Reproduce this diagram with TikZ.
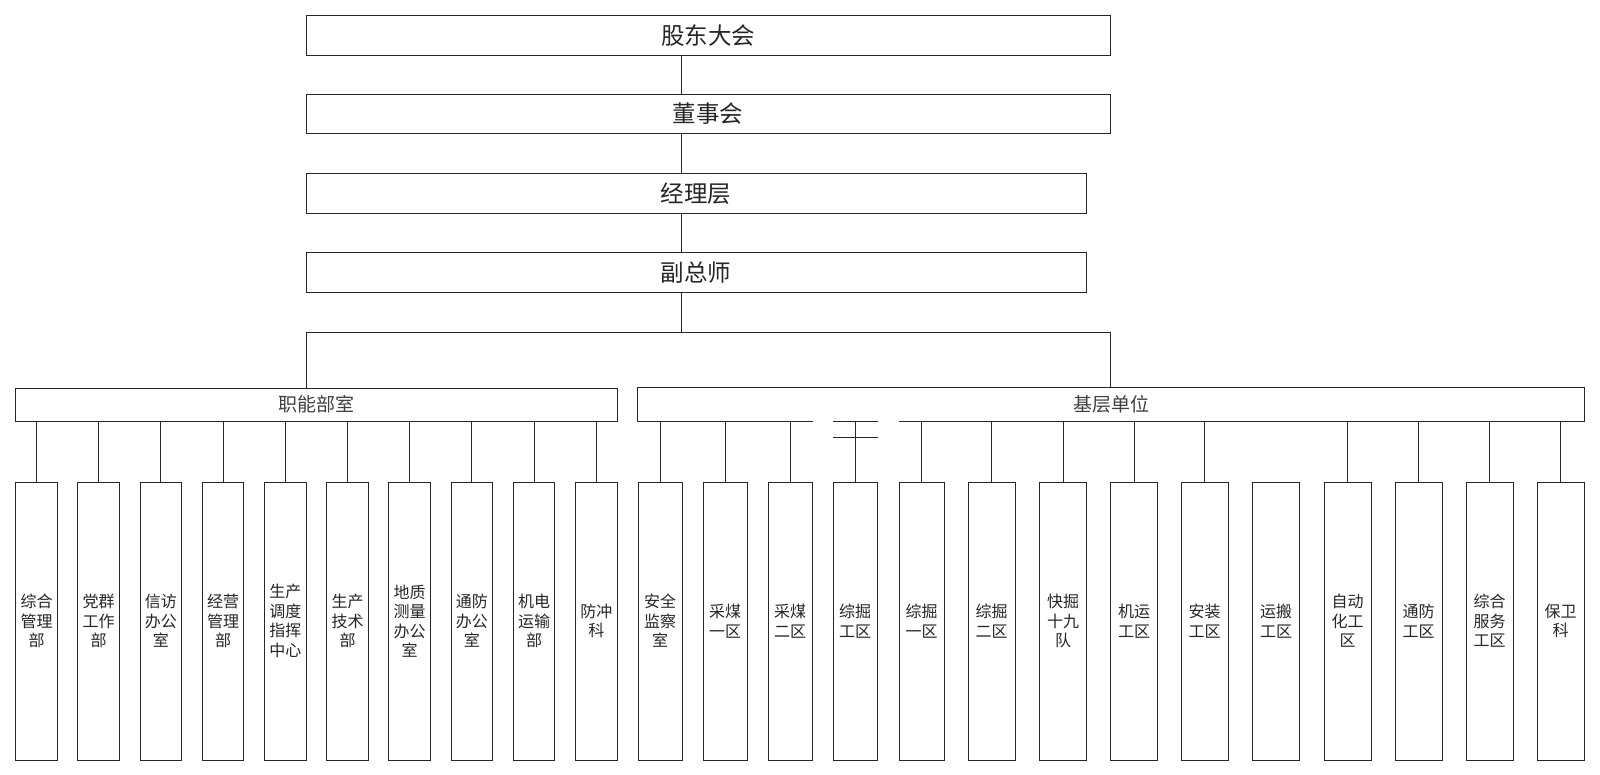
\documentclass[tikz,border=0pt]{standalone}
\usepackage{fontspec}
\setmainfont{Noto Sans CJK SC}
\begin{document}
\begin{tikzpicture}[x=1pt,y=-1pt]
\tikzset{
  box/.style={draw=black!85, line width=1pt, inner sep=0pt, align=center, text=black!85},
  topbox/.style={box, minimum height=39.5pt, font=\fontsize{23.5}{28}\selectfont},
  midbox/.style={box, minimum height=33pt, font=\fontsize{19}{22}\selectfont, text=black!75},
  unit/.style={box, minimum height=278pt, font=\fontsize{16}{19.5}\selectfont},
  lunit/.style={unit, minimum width=41.5pt},
  runit/.style={unit, minimum width=44pt},
  wunit/.style={unit, minimum width=47pt},
  conn/.style={draw=black!85, line width=0.9pt},
  edge/.style={draw=black!85, line width=1pt}
}
\useasboundingbox (0,0) rectangle (1600,775);
\fill[white] (0,0) rectangle (1600,775);

% top chain
\node[topbox, minimum width=804pt] (n1) at (708,35.3) {股东大会};
\node[topbox, minimum width=804pt] (n2) at (708,114) {董事会};
\node[topbox, minimum width=780pt] (n3) at (696,193.5) {经理层};
\node[topbox, minimum width=780pt] (n4) at (696,272.5) {副总师};
\coordinate (sp) at (681,0);
\coordinate (bj) at (681,332);
\coordinate (bl) at (306,332);
\coordinate (brr) at (1110,332);
\coordinate (x2) at (0,437);

\draw[conn] (n1.south -| sp) -- (n2.north -| sp);
\draw[conn] (n2.south -| sp) -- (n3.north -| sp);
\draw[conn] (n3.south -| sp) -- (n4.north -| sp);
\draw[conn] (n4.south -| sp) -- (bj);
\draw[conn] (bl) -- (brr);

% group boxes
\node[midbox, minimum width=601.3pt] (zn) at (316.35,404.5) {职能部室};
\node[midbox, draw=none, minimum width=946pt] (jc) at (1111,404.5) {基层单位};
\draw[conn] (bl) -- (zn.north -| bl);
\draw[conn] (brr) -- (jc.north -| brr);

% left units
\node[lunit] (a1) at (36.5,621) {综合\\管理\\部};
\node[lunit] (a2) at (98.7,621) {党群\\工作\\部};
\node[lunit] (a3) at (160.9,621) {信访\\办公\\室};
\node[lunit] (a4) at (223.1,621) {经营\\管理\\部};
\node[lunit] (a5) at (285.3,621) {生产\\调度\\指挥\\中心};
\node[lunit] (a6) at (347.5,621) {生产\\技术\\部};
\node[lunit] (a7) at (409.7,621) {地质\\测量\\办公\\室};
\node[lunit] (a8) at (471.9,621) {通防\\办公\\室};
\node[lunit] (a9) at (534.1,621) {机电\\运输\\部};
\node[lunit] (a10) at (596.3,621) {防冲\\科};
\foreach \i in {1,...,10} {
  \draw[conn] (a\i.north) -- (a\i.north |- zn.south);
}

% right units
\node[runit] (b1) at (660,621) {安全\\监察\\室};
\node[runit] (b2) at (725,621) {采煤\\一区};
\node[runit] (b3) at (790,621) {采煤\\二区};
\node[runit] (b4) at (855,621) {综掘\\工区};
\node[runit, minimum width=45pt] (b5) at (921.5,621) {综掘\\一区};
\node[wunit] (b6) at (991.5,621) {综掘\\二区};
\node[wunit] (b7) at (1063,621) {快掘\\十九\\队};
\node[wunit] (b8) at (1134,621) {机运\\工区};
\node[wunit] (b9) at (1204.5,621) {安装\\工区};
\node[wunit] (b10) at (1276,621) {运搬\\工区};
\node[wunit] (b11) at (1347.5,621) {自动\\化工\\区};
\node[wunit] (b12) at (1418.5,621) {通防\\工区};
\node[wunit] (b13) at (1489.5,621) {综合\\服务\\工区};
\node[wunit] (b14) at (1560.5,621) {保卫\\科};
\foreach \i in {1,2,3,4,5,6,7,8,9,11,12,13,14} {
  \draw[conn] (b\i.north) -- (b\i.north |- jc.south);
}

% 基层单位 frame with broken bottom edge
\draw[edge] (jc.south west) |- (jc.north east) -- (jc.south east);
\draw[edge] (jc.south west) -- (b3.east |- jc.south);
\draw[edge] (b4.west |- jc.south) -- (b4.east |- jc.south);
\draw[edge] (b5.west |- jc.south) -- (jc.south east);
\draw[conn] (b4.west |- x2) -- (b4.east |- x2);
\end{tikzpicture}
\end{document}
